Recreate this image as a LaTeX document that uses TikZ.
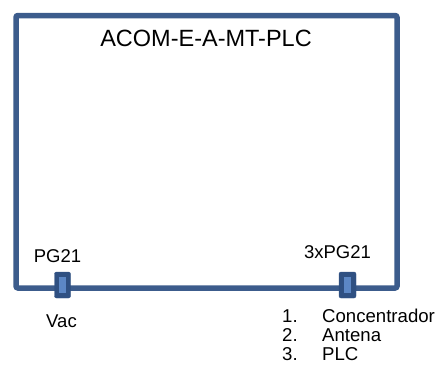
\documentclass[tikz,border=0pt]{standalone}
\usepackage{fontspec}
\setmainfont{Liberation Sans}
\definecolor{frame}{RGB}{60,92,140}
\definecolor{plugdark}{RGB}{47,80,130}
\definecolor{pluglight}{RGB}{92,135,197}
\tikzset{
  enclosure/.style={draw=frame, line width=5.5pt, rounded corners=2pt, inner sep=0pt, minimum width=381pt, minimum height=272.5pt},
  gland/.style={fill=plugdark, draw=plugdark, rounded corners=2pt, inner sep=0pt, minimum width=16pt, minimum height=26pt},
  glandcore/.style={fill=pluglight, inner sep=0pt, minimum width=7pt, minimum height=16pt},
  lbl/.style={font=\fontsize{18.5}{18.5}\selectfont, inner sep=0pt, anchor=base},
  lstl/.style={font=\fontsize{18.6}{18.6}\selectfont, inner sep=0pt, anchor=base west},
  ttl/.style={font=\fontsize{23.5}{23.5}\selectfont, inner sep=0pt, anchor=base}
}
\begin{document}
\begin{tikzpicture}[x=1pt,y=1pt]
\useasboundingbox (0,0) rectangle (444,368);
\node[enclosure] (box) at (206.5,216.25) {};
\node[ttl] (title) at (206,322) {ACOM-E-A-MT-PLC};
\node[gland] (g1) at (62.5,83) {};
\node[glandcore] (g1c) at (g1.center) {};
\node[gland, minimum width=17pt] (g2) at (347.5,83) {};
\node[glandcore] (g2c) at (g2.center) {};
\node[lbl] (pg1) at (57.5,106) {PG21};
\node[lbl] (pg2) at (337.5,110) {3xPG21};
\node[lbl] (vac) at (61.5,41) {Vac};
\node[lstl] (n1) at (282,46) {1.};
\node[lstl] (t1) at (322,46) {Concentrador};
\node[lstl] (n2) at (282,27) {2.};
\node[lstl] (t2) at (322,27) {Antena};
\node[lstl] (n3) at (282,8) {3.};
\node[lstl] (t3) at (322,8) {PLC};
\end{tikzpicture}
\end{document}
